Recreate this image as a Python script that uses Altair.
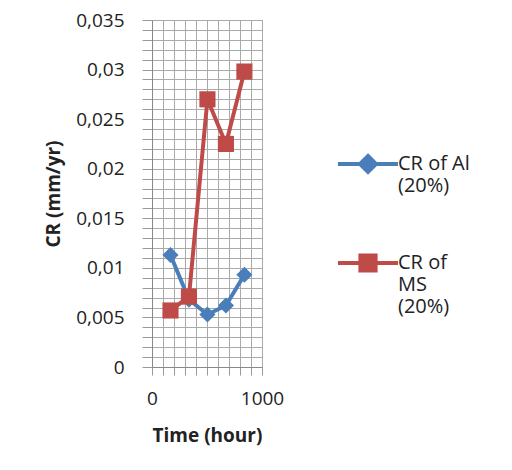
import altair as alt
import pandas as pd

hours = [168, 336, 504, 672, 840]
cr_al = [0.0113, 0.0068, 0.0053, 0.0062, 0.0093]
cr_ms = [0.0057, 0.0071, 0.0270, 0.0225, 0.0298]
series = ["CR of Al|(20%)", "CR of|MS|(20%)"]

df = pd.concat([
    pd.DataFrame({"hour": hours, "cr": cr_al, "series": series[0]}),
    pd.DataFrame({"hour": hours, "cr": cr_ms, "series": series[1]}),
])

font = "Open Sans"
colors = ["#4a7ebb", "#be4b48"]
yvals = [i / 1000 for i in range(0, 36)]
xvals = list(range(0, 1001, 100))
legend_paths = [
    "M-1.5,0H1.5M0,-0.4L0.4,0L0,0.4L-0.4,0Z",
    "M-1.5,0H1.5M-0.38,-0.38H0.38V0.38H-0.38Z",
]

x = alt.X("hour:Q", title="Time (hour)", scale=alt.Scale(domain=[0, 1000]),
          axis=alt.Axis(values=xvals, labelExpr="datum.value % 1000 == 0 ? format(datum.value, 'd') : ''",
                        labelOverlap=False, tickSize=8, tickColor="#999",
                        labelPadding=14, titlePadding=18, gridColor="#aaa",
                        domainColor="#888"))
y = alt.Y("cr:Q", title="CR (mm/yr)", scale=alt.Scale(domain=[0, 0.035], nice=False),
          axis=alt.Axis(values=yvals, labelOverlap=False,
                        labelExpr="round(datum.value*1000) % 5 == 0 ? replace(format(datum.value, '.3~f'), '.', ',') : ''",
                        tickSize=10, tickColor="#999", labelPadding=18,
                        titlePadding=12, gridColor="#aaa", domainColor="#888"))
cscale = alt.Scale(domain=series, range=colors)
leg = alt.Legend(orient="none", legendX=194, legendY=122, title=None,
                 labelExpr="split(datum.label, '|')",
                 labelFontSize=20, labelFont=font, labelColor="#222",
                 rowPadding=45, symbolSize=1600, symbolStrokeWidth=4,
                 symbolOpacity=1, labelOffset=8, labelLimit=200)
nocolor = alt.Color("series:N", scale=cscale, legend=None)

# hidden layer that only feeds the legend (line + marker symbols)
legend_layer = alt.Chart(df).mark_point(filled=True, size=0, opacity=1).encode(
    x=x, y=y,
    color=alt.Color("series:N", scale=cscale, legend=leg),
    shape=alt.Shape("series:N", scale=alt.Scale(domain=series, range=legend_paths), legend=leg),
)
lines = alt.Chart(df).mark_line(strokeWidth=4).encode(x=x, y=y, color=nocolor)
al_pts = alt.Chart(df[df.series == series[0]]).mark_point(shape="diamond", filled=True, size=260, opacity=1).encode(
    x=x, y=y, color=nocolor)
ms_pts = alt.Chart(df[df.series == series[1]]).mark_square(size=260, opacity=1).encode(
    x=x, y=y, color=nocolor)

chart = (
    (legend_layer + lines + al_pts + ms_pts)
    .properties(width=110, height=347, autosize="none",
                padding={"left": 144, "top": 12, "right": 240, "bottom": 95})
    .configure(background="white")
    .configure_view(stroke="#888")
    .configure_axis(labelFont=font, titleFont=font, labelFontSize=19, titleFontSize=19,
                    titleFontWeight="bold", labelColor="#222", titleColor="#222", labelFlush=False)
)
chart.save("out.html", embed_options={"renderer": "svg", "actions": False})
